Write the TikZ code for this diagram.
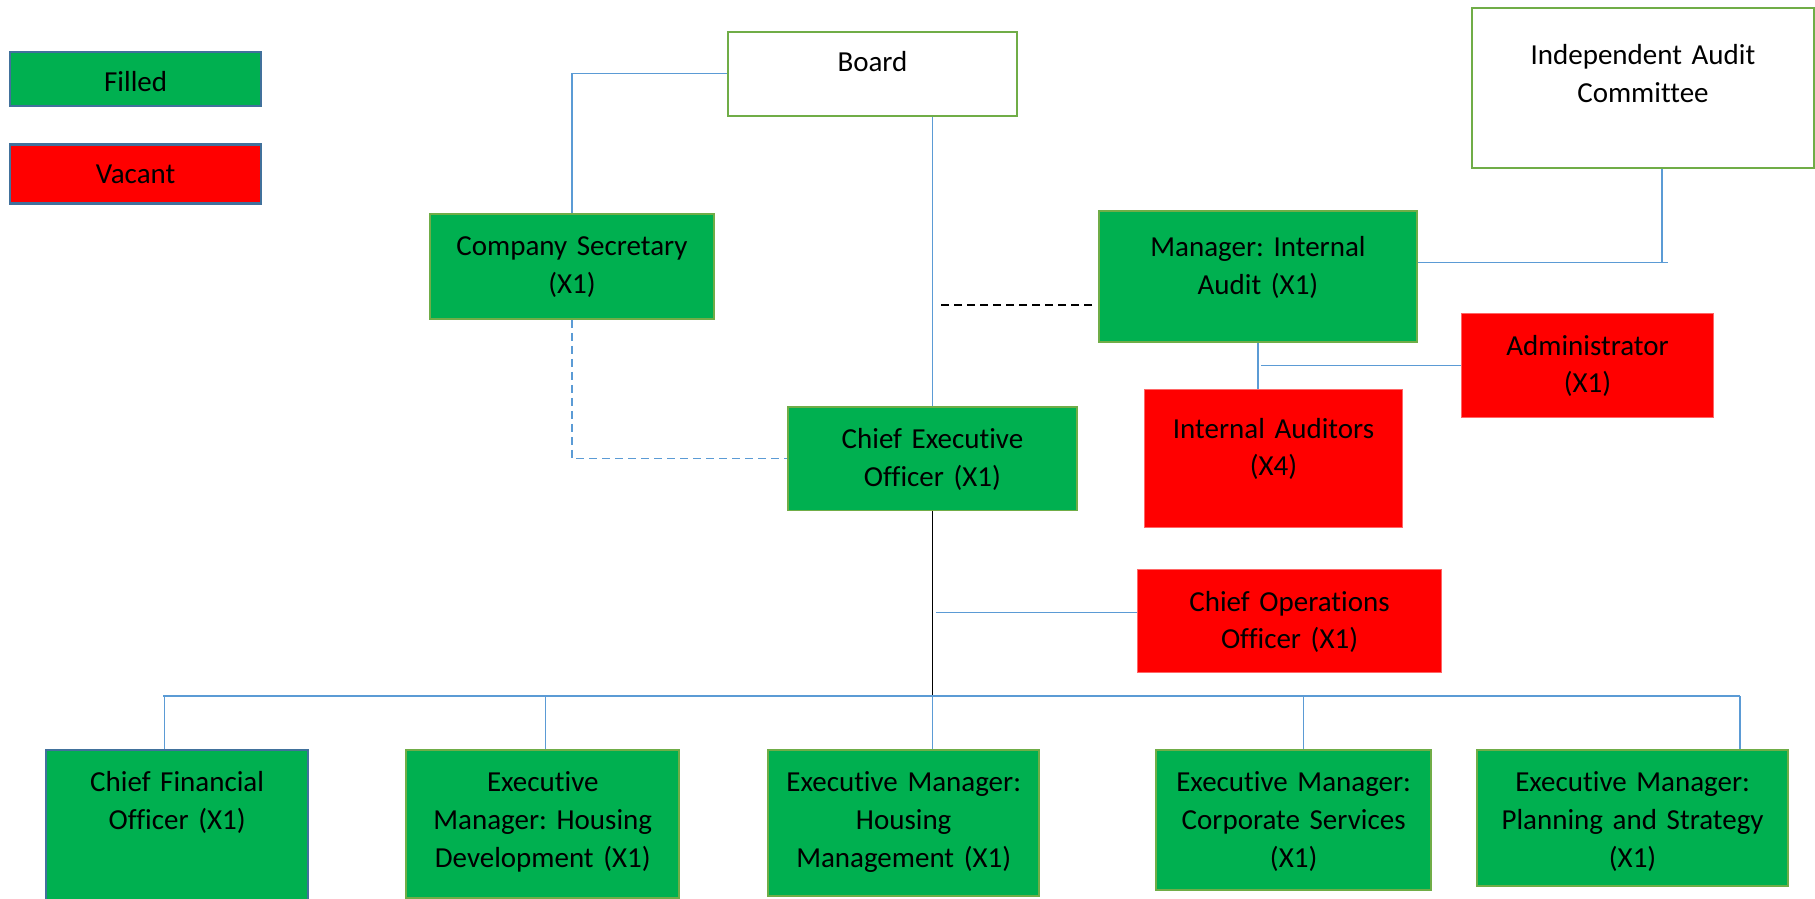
\documentclass[tikz,border=0pt]{standalone}
\usepackage{fontspec}
\setmainfont{Carlito}[Ligatures=NoCommon]
\usepackage{xcolor}
\usepackage{tikz}
\usetikzlibrary{positioning,calc}
\definecolor{fillgreen}{HTML}{00B050}
\definecolor{vacantred}{HTML}{FF0000}
\definecolor{edgegreen}{HTML}{70AD47}
\definecolor{edgeblue}{HTML}{41719C}
\definecolor{edgered}{HTML}{FF6666}
\definecolor{lineblue}{HTML}{5B9BD5}
\newcommand{\orgfont}{\fontsize{16.5}{21.6}\selectfont\frenchspacing}
\tikzset{
  orgbox/.style={
    rectangle,
    anchor=north west,
    align=center,
    font=\orgfont,
    line width=1.1pt,
    inner xsep=1mm,
    inner ysep=0pt,
    text height=8.3mm
  },
  filledbox/.style={
    orgbox,
    draw=edgegreen,
    fill=fillgreen
  },
  vacantbox/.style={
    orgbox,
    draw=edgered,
    fill=vacantred,
    line width=0.6pt
  },
  topbox/.style={
    orgbox,
    draw=edgegreen,
    fill=white
  },
  keybox/.style={
    orgbox,
    draw=edgeblue,
    line width=1.3pt
  },
  orgline/.style={
    draw=lineblue,
    line width=0.6pt
  },
  orgdash/.style={
    orgline,
    dash pattern=on 1.6mm off 1mm
  },
  auditdash/.style={
    draw=black,
    line width=0.8pt,
    dash pattern=on 1.6mm off 1mm
  },
  ceoline/.style={
    draw=black,
    line width=0.7pt
  }
}
\begin{document}
\begin{tikzpicture}[
    x=0.2mm,
    y=-0.2mm
    ]
    \useasboundingbox (0,0) rectangle (1815,899);
    
    \node[keybox, fill=fillgreen, text width=48.2mm, text height=7.9mm, text depth=2.9mm] (legfilled) at (9,51) {Filled};
    \node[keybox, fill=vacantred, below=7.2mm of legfilled, text width=48.2mm, text height=7.9mm, text depth=3.9mm] (legvacant) {Vacant};
    
    \node[topbox, text width=55.8mm, text height=7.9mm, text depth=8.9mm] (board) at (727,31) {Board};
    \node[topbox, text width=66.4mm, text height=11.3mm, text depth=20.7mm] (iac) at (1471,7) {Independent Audit\\Committee};
    
    \node[filledbox, text width=54.8mm, text depth=12.7mm] (cs) at (429,213) {Company Secretary\\(X1)};
    \node[filledbox, text width=61.6mm, text height=9.1mm, text depth=17.1mm] (mia) at (1098,210) {Manager: Internal\\Audit (X1)};
    \node[filledbox, text width=55.8mm, text depth=12.4mm] (ceo) at (787,406) {Chief Executive\\Officer (X1)};
    
    \node[vacantbox, text width=48.4mm, text depth=12.5mm] (admin) at (1461,313) {Administrator\\(X1)};
    \node[vacantbox, text width=49.6mm, text height=9.7mm, text depth=17.9mm] (ia) at (1144,389) {Internal Auditors\\(X4)};
    \node[vacantbox, text width=58.8mm, text depth=12.3mm] (coo) at (1137,569) {Chief Operations\\Officer (X1)};
    
    \node[keybox, fill=fillgreen, text width=50.4mm, text depth=21.7mm] (cfo) at (45,749) {Chief Financial\\Officer (X1)};
    \node[filledbox, right=19.2mm of cfo.north east, anchor=north west, text width=52.6mm, text depth=21.3mm] (emhd) {Executive\\Manager: Housing\\Development (X1)};
    \node[filledbox, right=17.4mm of emhd.north east, anchor=north west, text width=52.2mm, text depth=20.9mm] (emhm) {Executive Manager:\\Housing\\Management (X1)};
    \node[filledbox, right=23mm of emhm.north east, anchor=north west, text width=53mm, text depth=19.7mm] (emcs) {Executive Manager:\\Corporate Services\\(X1)};
    \node[filledbox, right=8.8mm of emcs.north east, anchor=north west, text width=60.2mm, text depth=18.9mm] (emps) {Executive Manager:\\Planning and Strategy\\(X1)};
    
    \draw[orgline] (board.west) -| (cs.north);
    \draw[orgline] (ceo.north |- board.south) -- (ceo.north);
    
    \coordinate (dashend) at ([yshift=-5.7mm]mia.west);
    \draw[auditdash] ([xshift=-1.2mm]dashend) -- ([xshift=1.2mm]ceo.north |- dashend);
    \draw[orgdash] (cs.south) |- (ceo.west);
    
    \coordinate (iacjoin) at ([xshift=3.8mm, yshift=-18.8mm]iac.south);
    \draw[orgline] (iac.south -| iacjoin) -- (iacjoin);
    \draw[orgline] (mia.east |- iacjoin) -- ([xshift=1.2mm]iacjoin);
    
    \draw[orgline] (mia.south) -- (mia.south |- ia.north);
    \draw[orgline] ([xshift=0.6mm]mia.south |- admin.west) -- (admin.west);
    
    \coordinate (busleft) at (163,696);
    \coordinate (busright) at (1740,696);
    \draw[ceoline] (ceo.south) -- (ceo.south |- busleft);
    \draw[orgline] ([xshift=0.8mm, yshift=1.8mm]ceo.south |- coo.west) -- ([yshift=1.8mm]coo.west);
    \draw[orgline] (busleft) -- (busright);
    \foreach \post/\off in {cfo/-2.6mm, emhd/0.5mm, emhm/5.8mm, emcs/1.9mm}
      \draw[orgline] ([xshift=\off]\post.north) -- ([xshift=\off]\post.north |- busleft);
    \draw[orgline] (busright) -- (busright |- emps.north);
    
    \end{tikzpicture}
\end{document}
